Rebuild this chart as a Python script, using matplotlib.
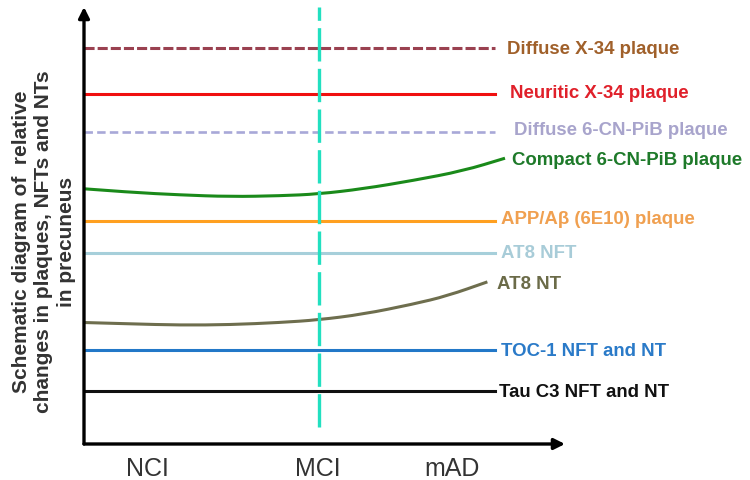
import numpy as np
import matplotlib
matplotlib.use("Agg")
import matplotlib.pyplot as plt
from matplotlib.path import Path
from matplotlib.patches import PathPatch

# ---- data ----
stages = ["NCI", "MCI", "mAD"]
stage_pos = [13.4, 49.2, 77.3]
mci_x = 49.4

series_names = ["Diffuse X-34 plaque", "Neuritic X-34 plaque", "Diffuse 6-CN-PiB plaque",
                "Compact 6-CN-PiB plaque", "APP/A\u03b2 (6E10) plaque", "AT8 NFT", "AT8 NT",
                "TOC-1 NFT and NT", "Tau C3 NFT and NT"]

flat_x = [0.0, 86.3]
diffuse_x34 = [90.6, 90.6]
neuritic_x34 = [80.1, 80.1]
diffuse_pib = [71.4, 71.4]
app_6e10 = [51.0, 51.0]
at8_nft = [43.7, 43.7]
toc1 = [21.5, 21.5]
tauc3 = [12.1, 12.1]

compact_x = [0.0, 9.7, 20.2, 30.7, 41.2, 49.2, 58.6, 69.1, 79.6, 88.4]
compact_y = [58.4, 57.6, 57.0, 56.6, 56.8, 57.2, 58.4, 60.3, 62.5, 65.4]
at8nt_x = [0.0, 9.7, 20.2, 30.7, 41.2, 49.2, 58.6, 69.1, 76.3, 84.7]
at8nt_y = [27.8, 27.5, 27.2, 27.3, 27.8, 28.4, 29.7, 32.0, 33.9, 37.1]

fig = plt.figure(figsize=(7.5, 4.81), dpi=100)
ax = fig.add_axes([84/750, 36/481, 481/750, 437/481])
ax.set_xlim(0, 101)
ax.set_ylim(0, 100)
for s in ax.spines.values():
    s.set_visible(False)


def smooth_curve(ax, xs, ys, color, lw):
    # quadratic Bezier path through midpoints, read points used as control points
    verts = [(xs[0], ys[0])]
    codes = [Path.MOVETO]
    for i in range(1, len(xs) - 1):
        mx = (xs[i] + xs[i + 1]) / 2
        my = (ys[i] + ys[i + 1]) / 2
        verts += [(xs[i], ys[i]), (mx, my)]
        codes += [Path.CURVE3, Path.CURVE3]
    verts.append((xs[-1], ys[-1]))
    codes.append(Path.LINETO)
    ax.add_patch(PathPatch(Path(verts, codes), facecolor="none", edgecolor=color,
                           lw=lw, capstyle="butt"))


lw = 2.2
ax.plot(flat_x, diffuse_x34, color="#9A4150", lw=lw, dashes=(3.3, 1.0))
ax.plot(flat_x, neuritic_x34, color="#F01010", lw=lw)
ax.plot(flat_x, diffuse_pib, color="#A8A8D8", lw=1.9, dashes=(3.2, 1.6))
smooth_curve(ax, compact_x, compact_y, "#1A8A1A", lw)
ax.plot(flat_x, app_6e10, color="#FFA020", lw=lw)
ax.plot(flat_x, at8_nft, color="#A6CFDA", lw=lw)
smooth_curve(ax, at8nt_x, at8nt_y, "#6E6E4E", lw)
ax.plot(flat_x, toc1, color="#2278C8", lw=lw)
ax.plot(flat_x, tauc3, color="#111111", lw=lw)

# MCI boundary
ax.plot([mci_x, mci_x], [3.9, 100], color="#22E0C0", lw=2.4, dashes=(10, 2.2))

# axes arrows
for tip in [(0, 1.0), (1.0, 0)]:
    ax.annotate("", xy=tip, xytext=(0, 0), xycoords="axes fraction",
                arrowprops=dict(arrowstyle="-|>", lw=2.4, color="black", mutation_scale=16,
                                shrinkA=0, shrinkB=0), annotation_clip=False)

label_pos = [(88.9, 90.4), (89.5, 80.5), (90.3, 71.9), (89.9, 65.2), (87.6, 51.7),
             (87.6, 43.9), (86.8, 36.8), (87.6, 21.5), (87.2, 12.1)]
label_colors = ["#A0602A", "#E0202A", "#A8A4CC", "#1E7A2A", "#F0A050",
                "#A8CCD8", "#6B6B48", "#2A7AC8", "#111111"]
for name, (x, y), c in zip(series_names, label_pos, label_colors):
    ax.text(x, y, name, color=c, fontsize=13.4, fontweight="bold",
            family="Liberation Sans", ha="left", va="center", clip_on=False)

ax.set_xticks(stage_pos)
ax.set_xticklabels(stages, fontsize=18, family="Liberation Sans", color="#333333")
ax.tick_params(axis="x", length=0, pad=9)
ax.set_yticks([])

fig.text(44/750, 1 - 242/481,
         "Schematic diagram of  relative\nchanges in plaques, NFTs and NTs\nin precuneus",
         rotation=90, ha="center", va="center", multialignment="center",
         fontsize=15, fontweight="bold", family="Liberation Sans", color="#333333",
         linespacing=1.25)

fig.savefig("out.png", dpi=100)
